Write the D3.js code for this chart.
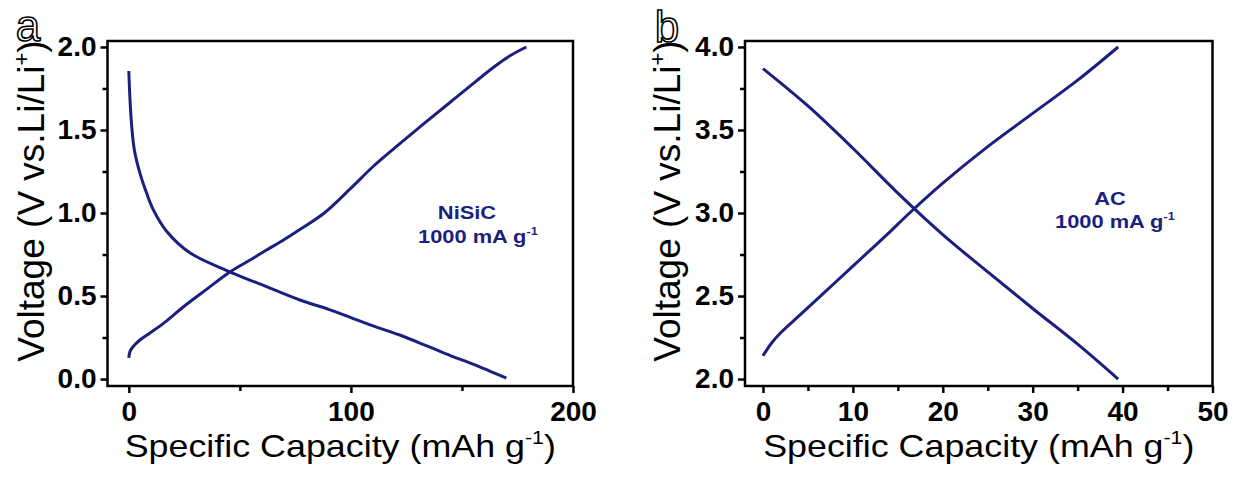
<!DOCTYPE html>
<html>
<head>
<meta charset="utf-8">
<script src="https://cdn.jsdelivr.net/npm/d3@7"></script>
<style>
body { margin: 0; background: #fff; }
text { font-family: "Liberation Sans", Arial, sans-serif; }
</style>
</head>
<body>
<script>
var w = 1241;
var h = 477;

// panel a - NiSiC, discharge then charge (capacity mAh/g, voltage V)
const capA_dis = [0, 0.4, 1.2, 2.5, 5, 8, 11, 17, 27.5, 45.5, 62, 77, 90, 100, 110, 122, 135, 145, 155, 163, 170];
const voltA_dis = [1.855, 1.72, 1.54, 1.38, 1.24, 1.12, 1.02, 0.89, 0.76, 0.646, 0.556, 0.476, 0.42, 0.37, 0.32, 0.265, 0.195, 0.14, 0.09, 0.045, 0.005];
const capA_chg = [0, 0.5, 1.8, 5, 9.5, 16, 24.5, 35, 45.5, 55, 62, 70, 77, 88, 100, 110, 120, 133, 145, 156, 165, 172, 179];
const voltA_chg = [0.127, 0.165, 0.193, 0.235, 0.277, 0.34, 0.434, 0.54, 0.645, 0.72, 0.777, 0.84, 0.9, 1.0, 1.15, 1.28, 1.395, 1.54, 1.67, 1.79, 1.885, 1.95, 2.0];

// panel b - AC
const capB_dis = [0, 5, 10, 15, 20, 25, 30, 35, 39.5];
const voltB_dis = [3.87, 3.645, 3.39, 3.12, 2.87, 2.645, 2.425, 2.21, 2.0];
const capB_chg = [0, 1, 2, 4, 6, 8, 10, 12, 14, 16.3, 20, 25, 30, 35, 39.5];
const voltB_chg = [2.14, 2.22, 2.28, 2.38, 2.48, 2.58, 2.68, 2.78, 2.88, 3.0, 3.18, 3.40, 3.60, 3.80, 4.0];

// ticks
const xTicksA = [0, 100, 200];
const xMinorA = [50, 150];
const yTicksA = [0, 0.5, 1.0, 1.5, 2.0];
const yMinorA = [0.25, 0.75, 1.25, 1.75];
const xTicksB = [0, 10, 20, 30, 40, 50];
const xMinorB = [5, 15, 25, 35, 45];
const yTicksB = [2.0, 2.5, 3.0, 3.5, 4.0];
const yMinorB = [2.25, 2.75, 3.25, 3.75];

const lineColor = "#1b1f7d";

const svg = d3.select("body")
    .append("svg")
    .attr("width", w)
    .attr("height", h);

function zip(xs, ys) { return xs.map((x, i) => [x, ys[i]]); }

function drawPanel(p) {
    const x = d3.scaleLinear().domain(p.xDomain).range([p.left, p.right]);
    const y = d3.scaleLinear().domain(p.yDomain).range([p.bottom, p.top]);

    // minor ticks first
    svg.append("g")
        .attr("transform", `translate(0,${p.bottom})`)
        .call(d3.axisBottom(x).tickValues(p.xMinor).tickSize(5).tickFormat(""))
        .call(g => g.select(".domain").remove())
        .selectAll("line").attr("stroke-width", 2.5);
    svg.append("g")
        .attr("transform", `translate(${p.left},0)`)
        .call(d3.axisLeft(y).tickValues(p.yMinor).tickSize(5).tickFormat(""))
        .call(g => g.select(".domain").remove())
        .selectAll("line").attr("stroke-width", 2.5);

    // major ticks
    const gx = svg.append("g")
        .attr("transform", `translate(0,${p.bottom})`)
        .call(d3.axisBottom(x).tickValues(p.xTicks).tickSize(7).tickPadding(8).tickFormat(d3.format("d")));
    gx.select(".domain").remove();
    gx.selectAll("line").attr("stroke-width", 2.5);
    gx.selectAll("text").attr("font-size", 28).attr("font-weight", "bold").attr("fill", "#000");

    const gy = svg.append("g")
        .attr("transform", `translate(${p.left},0)`)
        .call(d3.axisLeft(y).tickValues(p.yTicks).tickSize(7).tickPadding(4).tickFormat(d3.format(".1f")));
    gy.select(".domain").remove();
    gy.selectAll("line").attr("stroke-width", 2.5);
    gy.selectAll("text").attr("font-size", 28).attr("font-weight", "bold").attr("fill", "#000");

    // frame
    svg.append("rect")
        .attr("x", p.left).attr("y", p.top)
        .attr("width", p.right - p.left).attr("height", p.bottom - p.top)
        .attr("fill", "none").attr("stroke", "#000").attr("stroke-width", 2.5);

    const line = d3.line().x(d => x(d[0])).y(d => y(d[1])).curve(d3.curveCatmullRom.alpha(0.5));
    [p.dis, p.chg].forEach(d => {
        svg.append("path")
            .attr("d", line(d))
            .attr("fill", "none")
            .attr("stroke", lineColor)
            .attr("stroke-width", 3);
    });

    // axis titles
    const xt = svg.append("text")
        .attr("transform", `translate(${(p.left + p.right) / 2 + p.xTitleDx},${p.xTitleY}) scale(1.12,1)`)
        .attr("text-anchor", "middle").attr("font-size", 32);
    xt.append("tspan").text("Specific Capacity (mAh g");
    xt.append("tspan").attr("font-size", 19).attr("dy", -13).text("-1");
    xt.append("tspan").attr("dy", 13).text(")");

    const yt = svg.append("text")
        .attr("transform", `translate(${p.yTitleX},${p.yTitleY}) rotate(-90)`)
        .attr("text-anchor", "middle").attr("font-size", 37);
    yt.append("tspan").text("Voltage (V vs.Li/Li");
    yt.append("tspan").attr("font-size", 22).attr("dy", -15).text("+");
    yt.append("tspan").attr("dy", 15).text(")");

    // annotation
    svg.append("text")
        .attr("transform", `translate(${p.lab1[0]},${p.lab1[1]}) scale(1.15,1)`)
        .attr("text-anchor", "middle").attr("font-size", 19).attr("font-weight", "bold")
        .attr("fill", lineColor).text(p.name);
    const t2 = svg.append("text")
        .attr("transform", `translate(${p.lab2[0]},${p.lab2[1]}) scale(1.15,1)`)
        .attr("text-anchor", "start").attr("font-size", 19).attr("font-weight", "bold")
        .attr("fill", lineColor);
    t2.append("tspan").text("1000 mA g");
    t2.append("tspan").attr("font-size", 11).attr("dy", -8).text("-1");

    // panel letter, outlined
    svg.append("text")
        .attr("x", p.letter[0]).attr("y", p.letter[1])
        .attr("text-anchor", "middle").attr("font-size", 44)
        .attr("fill", "#fff").attr("stroke", "#000").attr("stroke-width", 1.6)
        .text(p.letterText);
}

drawPanel({
    left: 107.5, right: 573, top: 41, bottom: 386,
    xDomain: [-9.6, 200], yDomain: [-0.042, 2.036],
    xTicks: xTicksA, xMinor: xMinorA, yTicks: yTicksA, yMinor: yMinorA,
    dis: zip(capA_dis, voltA_dis), chg: zip(capA_chg, voltA_chg),
    xTitleDx: 0, xTitleY: 457, yTitleX: 44, yTitleY: 201,
    name: "NiSiC", lab1: [467, 219], lab2: [418, 243],
    letter: [28, 41], letterText: "a"
});

drawPanel({
    left: 745, right: 1212.5, top: 41, bottom: 386,
    xDomain: [-2, 50], yDomain: [1.958, 4.036],
    xTicks: xTicksB, xMinor: xMinorB, yTicks: yTicksB, yMinor: yMinorB,
    dis: zip(capB_dis, voltB_dis), chg: zip(capB_chg, voltB_chg),
    xTitleDx: 0, xTitleY: 457, yTitleX: 680, yTitleY: 201,
    name: "AC", lab1: [1110, 205], lab2: [1055, 228],
    letter: [667, 42], letterText: "b"
});
</script>
</body>
</html>
